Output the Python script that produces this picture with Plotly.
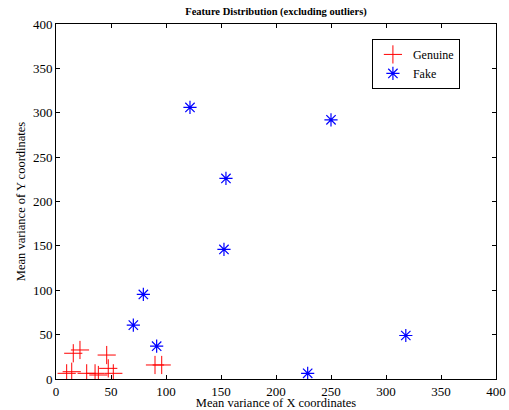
import plotly.graph_objects as go

genuine_x = [9.7, 14.3, 15.7, 21.8, 27.9, 35.5, 38.5, 46.1, 47.5, 52.1, 90.0, 96.1]
genuine_y = [6.4, 8.2, 29.0, 32.7, 6.4, 6.4, 4.5, 27.0, 12.0, 6.4, 15.8, 15.8]

fake_x = [121.8, 154.5, 152.7, 250.0, 318.0, 228.8, 79.4, 70.3, 91.5]
fake_y = [306.0, 226.0, 146.0, 292.0, 49.0, 6.4, 95.3, 60.7, 37.0]

ticks = [0, 50, 100, 150, 200, 250, 300, 350, 400]

font = "Liberation Serif, Times New Roman, serif"

fig = go.Figure()
fig.add_trace(go.Scatter(
    x=genuine_x, y=genuine_y, mode="markers", name="Genuine",
    marker=dict(symbol="cross-thin-open", size=13, color="#ff0000",
                line=dict(color="#ff0000", width=1)),
))
fig.add_trace(go.Scatter(
    x=fake_x, y=fake_y, mode="markers", name="Fake",
    marker=dict(symbol="asterisk-open", size=11, color="#0000ff",
                line=dict(color="#0000ff", width=1.2)),
))

axis_common = dict(
    range=[0, 400], tickvals=ticks, ticktext=[str(t) for t in ticks],
    showline=True, linecolor="black", linewidth=1, mirror="allticks",
    ticks="inside", ticklen=4, tickcolor="black", showgrid=False,
    zeroline=False, tickfont=dict(family=font, size=13, color="black"),
    automargin=False, ticklabeloverflow="allow",
)

fig.update_layout(
    width=509, height=410,
    margin=dict(l=56, r=13, t=24, b=31),
    paper_bgcolor="white", plot_bgcolor="white",
    title=dict(text="<b>Feature Distribution (excluding outliers)</b>",
               font=dict(family=font, size=10.5, color="black"),
               x=0.5, xanchor="center", xref="paper", y=0.972, yanchor="middle"),
    xaxis=dict(axis_common, title=dict(text="Mean variance of X coordinates",
                                       font=dict(family=font, size=12.5, color="black"),
                                       standoff=1)),
    yaxis=dict(axis_common, title=dict(text="Mean variance of Y coordinates",
                                       font=dict(family=font, size=12.5, color="black"),
                                       standoff=4)),
    legend=dict(x=0.718, y=0.958, xanchor="left", yanchor="top",
                bordercolor="black", borderwidth=1, bgcolor="white",
                font=dict(family=font, size=12, color="black"),
                tracegroupgap=0, itemwidth=30,
                entrywidth=62, entrywidthmode="pixels"),
    showlegend=True,
)

fig.write_html("out.html",
               config={"displayModeBar": False},
               post_script="document.body.style.margin='0';document.body.style.overflow='hidden';")
